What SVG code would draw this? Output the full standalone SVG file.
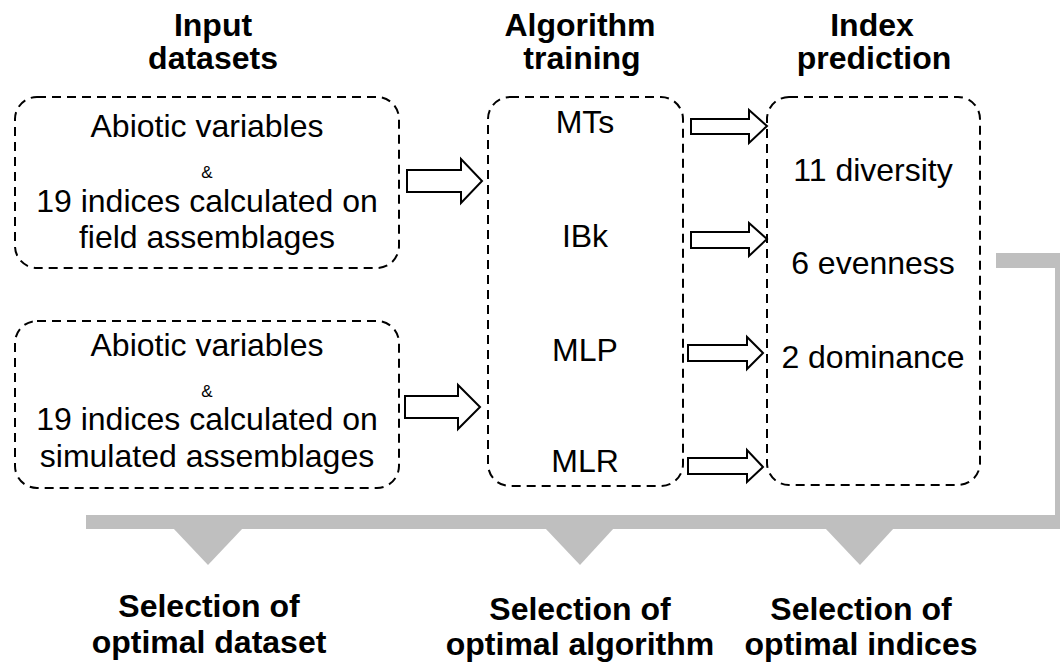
<svg xmlns="http://www.w3.org/2000/svg" width="1060" height="662" viewBox="0 0 1060 662">
<style>
.box{fill:none;stroke:#000;stroke-width:2;stroke-dasharray:9 6}
.arr{fill:#fff;stroke:#000;stroke-width:2;stroke-linejoin:miter}
.t{font-family:"Liberation Sans",Arial,sans-serif;font-size:32px;fill:#000;text-anchor:middle}
.b{font-family:"Liberation Sans",Arial,sans-serif;font-size:32px;font-weight:bold;fill:#000;text-anchor:middle}
.amp{font-family:"Liberation Sans",Arial,sans-serif;font-size:17px;fill:#000;text-anchor:middle}
.gray{fill:#bfbfbf}
</style>
<rect width="1060" height="662" fill="#fff"/>
<g id="headers">
<text class="b" x="213" y="36">Input</text>
<text class="b" x="213" y="69">datasets</text>
<text class="b" x="580" y="36">Algorithm</text>
<text class="b" x="582" y="69">training</text>
<text class="b" x="872" y="36">Index</text>
<text class="b" x="874" y="69">prediction</text>
</g>
<g id="field-dataset">
<rect class="box" x="15" y="97" width="384" height="171" rx="22" ry="22"/>
<text class="t" x="207" y="137">Abiotic variables</text>
<text class="amp" x="207" y="178">&amp;</text>
<text class="t" x="207" y="212">19 indices calculated on</text>
<text class="t" x="207" y="248">field assemblages</text>
</g>
<g id="simulated-dataset">
<rect class="box" x="15" y="321" width="384" height="167" rx="22" ry="22"/>
<text class="t" x="207" y="356">Abiotic variables</text>
<text class="amp" x="207" y="397">&amp;</text>
<text class="t" x="207" y="430">19 indices calculated on</text>
<text class="t" x="207" y="467">simulated assemblages</text>
</g>
<g id="algorithm-training">
<rect class="box" x="488" y="97" width="195" height="389" rx="22" ry="22"/>
<text class="t" x="585" y="133">MTs</text>
<text class="t" x="585" y="247">IBk</text>
<text class="t" x="585" y="361">MLP</text>
<text class="t" x="585" y="472">MLR</text>
</g>
<g id="index-prediction">
<rect class="box" x="767" y="97" width="213" height="388" rx="22" ry="22"/>
<text class="t" x="873" y="181">11 diversity</text>
<text class="t" x="873" y="274">6 evenness</text>
<text class="t" x="873" y="368">2 dominance</text>
</g>
<g id="connectors">
<polygon class="arr" points="407,170 461,170 461,159 482,181 461,203 461,192 407,192"/>
<polygon class="arr" points="405,396 458,396 458,385 480,407 458,429 458,418 405,418"/>
<polygon class="arr" points="691,119 749,119 749,110 767,126 749,143 749,134 691,134"/>
<polygon class="arr" points="691,232 749,232 749,223 767,239 749,256 749,248 691,248"/>
<polygon class="arr" points="688,345 747,345 747,337 763,353 747,369 747,361 688,361"/>
<polygon class="arr" points="688,458 747,458 747,450 763,467 747,482 747,474 688,474"/>
<polygon class="gray" points="996,253 1062,253 1062,529 86,529 86,515 1055,515 1055,268 996,268"/>
<polygon class="gray" points="173,528 243,528 208,565"/>
<polygon class="gray" points="545,528 614,528 580,565"/>
<polygon class="gray" points="825,528 894,528 860,565"/>
</g>
<g id="selections">
<text class="b" x="209" y="617">Selection of</text>
<text class="b" x="209" y="653">optimal dataset</text>
<text class="b" x="580" y="620">Selection of</text>
<text class="b" x="580" y="655">optimal algorithm</text>
<text class="b" x="861" y="620">Selection of</text>
<text class="b" x="861" y="655">optimal indices</text>
</g>
</svg>
